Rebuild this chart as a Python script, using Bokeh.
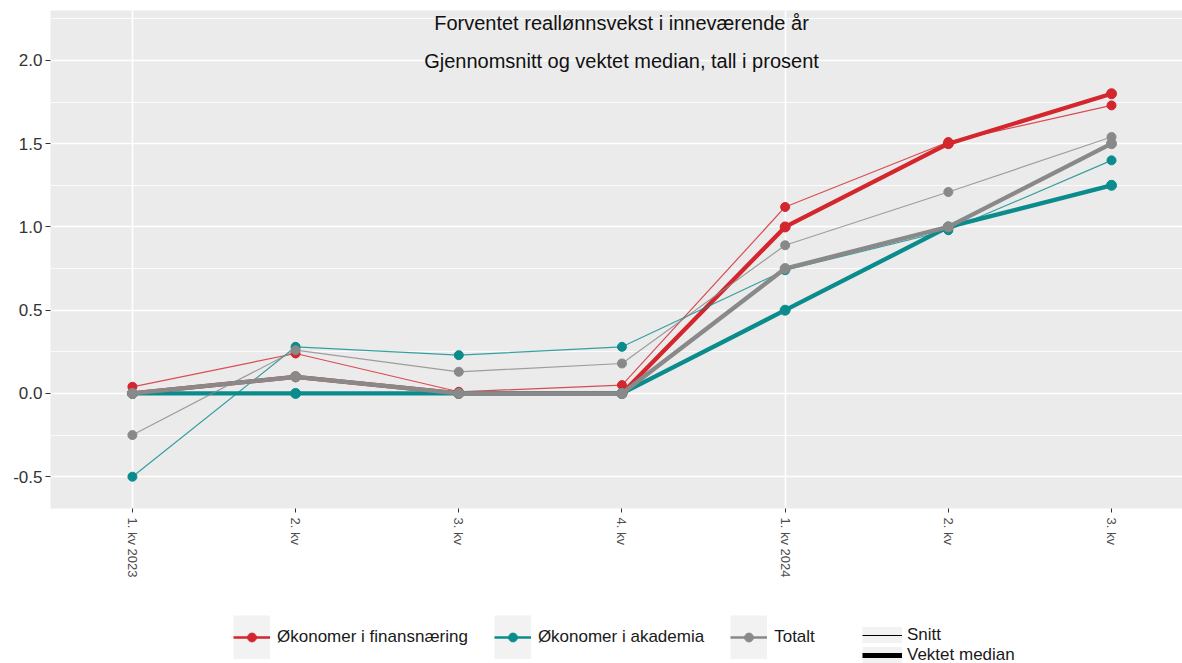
import math
import numpy as np
from bokeh.plotting import figure
from bokeh.layouts import column
from bokeh.models import (FixedTicker, PrintfTickFormatter, Range1d, Label,
                          Legend, LegendItem)
from bokeh.embed import file_html
from bokeh.resources import INLINE

# ---------------- data ----------------
quarters = ["1. kv 2023", "2. kv", "3. kv", "4. kv", "1. kv 2024", "2. kv", "3. kv"]

finans_snitt = [0.04, 0.24, 0.01, 0.05, 1.12, 1.51, 1.73]
finans_median = [0.0, 0.1, 0.0, 0.0, 1.0, 1.5, 1.8]
akademia_snitt = [-0.5, 0.28, 0.23, 0.28, 0.74, 0.98, 1.40]
akademia_median = [0.0, 0.0, 0.0, 0.0, 0.5, 1.0, 1.25]
totalt_snitt = [-0.25, 0.26, 0.13, 0.18, 0.89, 1.21, 1.54]
totalt_median = [0.0, 0.1, 0.0, 0.0, 0.75, 1.0, 1.5]

series_names = ["Økonomer i finansnæring", "Økonomer i akademia", "Totalt"]
stat_names = ["Snitt", "Vektet median"]
y_ticks = [-0.5, 0.0, 0.5, 1.0, 1.5, 2.0]
y_minor = [-0.25, 0.25, 0.75, 1.25, 1.75, 2.25]

title_1 = "Forventet reallønnsvekst i inneværende år"
title_2 = "Gjennomsnitt og vektet median, tall i prosent"

# ---------------- style ----------------
RED = "#D3262D"
TEAL = "#0A8C8C"
GRAY = "#898989"
PANEL = "#EBEBEB"
KEY_BG = "#F2F2F2"
FONT = "Liberation Sans"

x_idx = list(range(len(quarters)))

p = figure(width=1182, height=603, output_backend="svg", toolbar_location=None,
           x_range=Range1d(-0.502, 6.435), y_range=Range1d(-0.691, 2.300),
           min_border_left=50, min_border_right=0, min_border_top=10,
           min_border_bottom=95, background_fill_color=PANEL,
           border_fill_color="white", outline_line_color=None)

# axes
p.xaxis.ticker = FixedTicker(ticks=x_idx)
p.xaxis.major_label_overrides = {i: q for i, q in enumerate(quarters)}
p.xaxis.major_label_orientation = -math.pi / 2
p.xaxis.major_label_text_font_size = "13px"
p.xaxis.major_label_text_font = FONT
p.xaxis.major_label_text_color = "#4D4D4D"
p.xaxis.major_label_standoff = 5
p.xaxis.major_tick_out = 4
p.xaxis.major_tick_in = 0
p.xaxis.major_tick_line_color = "#333333"
p.xaxis.minor_tick_line_color = None
p.xaxis.axis_line_color = None

p.yaxis.ticker = FixedTicker(ticks=y_ticks)
p.yaxis.formatter = PrintfTickFormatter(format="%.1f")
p.yaxis.major_label_text_font_size = "17px"
p.yaxis.major_label_text_font = FONT
p.yaxis.major_label_text_color = "#333333"
p.yaxis.major_label_standoff = 3
p.yaxis.major_tick_out = 5
p.yaxis.major_tick_in = 0
p.yaxis.major_tick_line_color = "#333333"
p.yaxis.minor_tick_line_color = None
p.yaxis.axis_line_color = None

# grids
p.xgrid.ticker = FixedTicker(ticks=[i for i, q in enumerate(quarters) if "20" in q])
p.xgrid.grid_line_color = "white"
p.xgrid.grid_line_width = 1.6
p.ygrid.ticker = FixedTicker(ticks=y_ticks, minor_ticks=y_minor)
p.ygrid.grid_line_color = "white"
p.ygrid.grid_line_width = 1.6
p.ygrid.minor_grid_line_color = "white"
p.ygrid.minor_grid_line_width = 0.8

# data series
groups = [(finans_snitt, finans_median, RED),
          (akademia_snitt, akademia_median, TEAL),
          (totalt_snitt, totalt_median, GRAY)]
for snitt, median, col in groups:
    p.line(x_idx, snitt, line_color=col, line_width=1.2, line_alpha=0.8)
    p.scatter(x_idx, snitt, size=9, fill_color=col, line_color=col)
    p.line(x_idx, median, line_color=col, line_width=4.3)
    p.scatter(x_idx, median, size=10, fill_color=col, line_color=col)

# titles inside panel (screen units relative to the panel)
for txt, yy in [(title_1, 486), (title_2, 448)]:
    p.add_layout(Label(x=571, y=yy, x_units="screen", y_units="screen", text=txt,
                       text_align="center", text_baseline="middle",
                       text_font=FONT, text_font_size="20px", text_color="#111111"))

# ---------------- legend strip ----------------
lg = figure(width=1182, height=60, output_backend="svg", toolbar_location=None,
            x_range=Range1d(0, 1), y_range=Range1d(0, 1),
            x_axis_location=None, y_axis_location=None,
            min_border_left=0, min_border_right=0, min_border_top=0,
            min_border_bottom=0, outline_line_color=None,
            background_fill_color="white", border_fill_color="white")
lg.grid.visible = False

nan = np.array([np.nan])


def dummy_line(color, width):
    return lg.line(nan, nan, line_color=color, line_width=width, line_cap="butt")


def dummy_dot(color):
    return lg.scatter(nan, nan, size=9, fill_color=color, line_color=color)


common = dict(padding=0, margin=0, border_line_color=None, background_fill_alpha=0,
              label_text_font=FONT, label_text_font_size="17px")

# key backgrounds (labels invisible, same widths as the visible legend)
items_bg = [LegendItem(label=name, renderers=[dummy_line(KEY_BG, 44)])
            for name in series_names]
leg_bg = Legend(items=items_bg, orientation="horizontal", location=(183, 4),
                glyph_width=37, glyph_height=44, label_standoff=7, spacing=26,
                label_text_alpha=0, **common)
lg.add_layout(leg_bg)

items1 = [LegendItem(label=name, renderers=[dummy_line(col, 2.5), dummy_dot(col)])
          for name, col in zip(series_names, [RED, TEAL, GRAY])]
leg1 = Legend(items=items1, orientation="horizontal", location=(183, 15),
              glyph_width=37, glyph_height=22, label_standoff=7, spacing=26,
              label_text_color="#1A1A1A", **common)
lg.add_layout(leg1)

items2 = [LegendItem(label=name, renderers=[dummy_line(KEY_BG, 20),
                                            dummy_line("black", w)])
          for name, w in zip(stat_names, [1, 5])]
leg2 = Legend(items=items2, orientation="vertical", location=(812, -2),
              glyph_width=40, glyph_height=16, label_standoff=5, spacing=-4,
              label_text_color="#1A1A1A", **common)
lg.add_layout(leg2)

layout = column(p, lg, spacing=0)
open("out.html", "w").write(file_html(layout, INLINE))
